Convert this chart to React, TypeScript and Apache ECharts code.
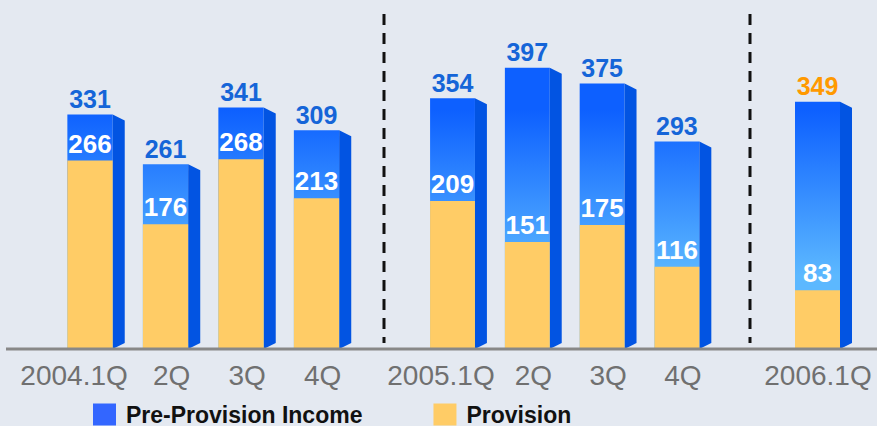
import React, { useEffect, useRef } from "react";
import * as echarts from "echarts";

const categories2004 = ["2004.1Q", "2Q", "3Q", "4Q"];
const categories2005 = ["2005.1Q", "2Q", "3Q", "4Q"];
const categories2006 = ["2006.1Q"];

const income2004 = [331, 261, 341, 309];
const provision2004 = [266, 176, 268, 213];
const income2005 = [354, 397, 375, 293];
const provision2005 = [209, 151, 175, 116];
const income2006 = [349];
const provision2006 = [83];

const seriesNames = ["Pre-Provision Income", "Provision"];

const BLUE_SIDE = "#0254e2";
const YELLOW = "#ffcc66";
const LABEL_BLUE = "#1565d8";
const LABEL_ORANGE = "#ff9900";

function makeAxisData(cats: string[], shifts: number[]) {
  return cats.map((c, i) => {
    const s = shifts[i] || 0;
    if (!s) return c;
    return { value: c, textStyle: { padding: [0, s > 0 ? 0 : -2 * s, 0, s > 0 ? 2 * s : 0] } };
  });
}

export default function App() {
  const ref = useRef<HTMLDivElement>(null);
  useEffect(() => {
    if (!ref.current) return;
    const chart = echarts.init(ref.current, undefined, { renderer: "svg" });

    const gradient = new echarts.graphic.LinearGradient(
      0, 110, 0, 275,
      [
        { offset: 0, color: "#0d60ff" },
        { offset: 1, color: "#5cb8ff" },
      ],
      true
    );

    const blueRender = (labelColors: string[]) => (params: any, api: any) => {
      const idx = api.value(0);
      const val = api.value(1);
      const base = api.coord([idx, 0]);
      const top = api.coord([idx, val]);
      const band = api.size([1, 0])[0];
      const fw = band * 0.6;
      const sw = band * 0.16;
      const fl = base[0] - fw / 2 - sw / 2;
      const b = base[1];
      const t = top[1];
      return {
        type: "group",
        children: [
          { type: "rect", shape: { x: fl, y: t, width: fw, height: b - t }, style: { fill: gradient } },
          {
            type: "polygon",
            shape: { points: [[fl + fw, t], [fl + fw + sw, t + 6], [fl + fw + sw, b - 6], [fl + fw, b]] },
            style: { fill: BLUE_SIDE },
          },
          {
            type: "text",
            style: {
              text: String(val),
              x: fl + fw / 2,
              y: t - 15.5,
              align: "center",
              verticalAlign: "middle",
              fill: labelColors[params.dataIndex] || LABEL_BLUE,
              font: 'bold 25px "Liberation Sans"',
            },
          },
        ],
      };
    };

    const yellowRender = (params: any, api: any) => {
      const idx = api.value(0);
      const val = api.value(1);
      const base = api.coord([idx, 0]);
      const top = api.coord([idx, val]);
      const band = api.size([1, 0])[0];
      const fw = band * 0.6;
      const sw = band * 0.16;
      const fl = base[0] - fw / 2 - sw / 2;
      const b = base[1];
      const t = top[1];
      return {
        type: "group",
        children: [
          { type: "rect", shape: { x: fl, y: t, width: fw, height: b - t }, style: { fill: YELLOW } },
          {
            type: "text",
            style: {
              text: String(val),
              x: fl + fw / 2,
              y: t - 17,
              align: "center",
              verticalAlign: "middle",
              fill: "#ffffff",
              font: 'bold 26px "Liberation Sans"',
            },
          },
        ],
      };
    };

    const groups = [
      { cats: categories2004, inc: income2004, prov: provision2004, colors: [] as string[], shifts: [-22, 0, 0, 0] },
      { cats: categories2005, inc: income2005, prov: provision2005, colors: [] as string[], shifts: [-17.5, 0, 0, 0] },
      { cats: categories2006, inc: income2006, prov: provision2006, colors: [LABEL_ORANGE], shifts: [-5.5] },
    ];

    const grids = [
      { left: 58.3, top: 9, width: 302, height: 340 },
      { left: 421.1, top: 9, width: 299.2, height: 340 },
      { left: 786, top: 9, width: 75, height: 340 },
    ];

    const xAxis = groups.map((g, i) => ({
      type: "category",
      gridIndex: i,
      data: makeAxisData(g.cats, g.shifts),
      axisLine: { show: false },
      axisTick: { show: false },
      axisLabel: {
        interval: 0,
        margin: 12,
        color: "#707070",
        fontFamily: "Liberation Sans",
        fontSize: 28,
      },
    }));

    const yAxis = groups.map((_, i) => ({
      type: "value",
      gridIndex: i,
      min: 0,
      max: 480,
      show: false,
    }));

    const series: any[] = [];
    groups.forEach((g, i) => {
      series.push({
        type: "custom",
        name: seriesNames[0],
        xAxisIndex: i,
        yAxisIndex: i,
        itemStyle: { color: "#3366ff" },
        encode: { x: 0, y: 1 },
        data: g.inc.map((v, k) => [k, v]),
        renderItem: blueRender(g.colors),
        z: 2,
      });
      series.push({
        type: "custom",
        name: seriesNames[1],
        xAxisIndex: i,
        yAxisIndex: i,
        itemStyle: { color: YELLOW },
        encode: { x: 0, y: 1 },
        data: g.prov.map((v, k) => [k, v]),
        renderItem: yellowRender,
        z: 3,
      });
    });

    const dashStyle = { stroke: "#111111", lineWidth: 3, lineDash: [11, 8] };

    chart.setOption({
      animation: false,
      backgroundColor: "#e4e9f1",
      grid: grids,
      xAxis,
      yAxis,
      series,
      legend: {
        left: 93,
        top: 403,
        padding: 0,
        itemWidth: 23,
        itemHeight: 22,
        itemGap: 71,
        icon: "rect",
        data: seriesNames,
        textStyle: {
          fontFamily: "Liberation Sans",
          fontWeight: "bold",
          fontSize: 23,
          lineHeight: 18,
          color: "#111111",
          padding: [0, 0, 0, 5],
        },
      },
      graphic: [
        { type: "line", z: 50, shape: { x1: 384, y1: 14, x2: 384, y2: 343 }, style: dashStyle },
        { type: "line", z: 50, shape: { x1: 750, y1: 14, x2: 750, y2: 343 }, style: dashStyle },
        { type: "line", z: 100, shape: { x1: 6, y1: 349, x2: 877, y2: 349 }, style: { stroke: "#888888", lineWidth: 3 } },
      ],
    });

    return () => chart.dispose();
  }, []);

  return (
    <div
      ref={ref}
      style={{ position: "fixed", left: 0, top: 0, width: 877, height: 426, background: "#e4e9f1" }}
    />
  );
}
